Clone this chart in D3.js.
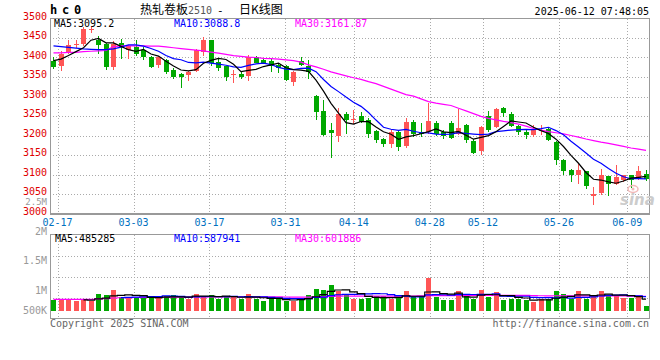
<!DOCTYPE html>
<html><head><meta charset="utf-8">
<script src="https://cdn.jsdelivr.net/npm/d3@7"></script>
<style>body{margin:0;background:#fff}svg{display:block}</style>
</head><body>
<svg id="c" width="660" height="360"></svg>
<script>
const dates = ["02-14","02-17","02-18","02-19","02-20","02-21","02-24","02-25","02-26","02-27","02-28",
"03-03","03-04","03-05","03-06","03-07","03-10","03-11","03-12","03-13","03-14",
"03-17","03-18","03-19","03-20","03-21","03-24","03-25","03-26","03-27","03-28","03-31",
"04-01","04-02","04-03","04-07","04-08","04-09","04-10","04-11",
"04-14","04-15","04-16","04-17","04-18","04-21","04-22","04-23","04-24","04-25",
"04-28","04-29","04-30","05-06","05-07","05-08","05-09",
"05-12","05-13","05-14","05-15","05-16","05-19","05-20","05-21","05-22","05-23",
"05-26","05-27","05-28","05-29","05-30","06-03","06-04","06-05","06-06",
"06-09","06-10","06-11","06-12"];
const open  = [3391,3378,3412,3433,3434,3471,3445,3434,3376,3436,3420,3426,3420,3401,3380,3394,3369,3358,3356,3365,
3413,3445,3389,3377,3356,3358,3353,3401,3393,3390,3381,3377,3338,3390,3379,3302,3263,3214,3198,3255,
3240,3251,3240,3211,3191,3178,3210,3173,3235,3210,3210,3232,3210,3233,3205,3227,3186,3161,3250,3221,
3270,3255,3224,3210,3201,3211,3216,3184,3138,3111,3100,3108,3045,3052,3095,3076,3085,3098,3089,3102];
const high  = [3402,3416,3444,3446,3479,3481,3455,3436,3442,3448,3433,3446,3428,3404,3404,3397,3372,3360,3366,3421,
3452,3446,3395,3379,3368,3364,3407,3405,3396,3395,3386,3380,3365,3401,3394,3303,3290,3231,3270,3261,
3265,3261,3244,3214,3193,3216,3214,3244,3240,3231,3283,3236,3213,3236,3267,3230,3190,3225,3262,3270,
3272,3261,3227,3214,3227,3227,3218,3186,3140,3113,3127,3110,3069,3113,3097,3124,3100,3100,3121,3111];
const low   = [3371,3366,3408,3424,3430,3464,3408,3367,3367,3395,3396,3405,3394,3372,3374,3358,3344,3321,3341,3362,
3403,3378,3366,3341,3334,3344,3341,3386,3384,3364,3360,3340,3326,3379,3345,3240,3199,3143,3184,3204,
3229,3231,3194,3180,3171,3167,3161,3167,3195,3197,3205,3200,3190,3190,3201,3181,3152,3149,3210,3218,
3247,3222,3202,3190,3197,3202,3186,3124,3098,3081,3075,3062,3022,3048,3046,3072,3082,3066,3085,3083];
const close = [3376,3410,3432,3435,3472,3473,3432,3376,3434,3428,3430,3410,3401,3376,3401,3364,3350,3349,3364,3418,
3446,3386,3374,3350,3358,3351,3401,3387,3387,3379,3373,3343,3362,3382,3362,3261,3201,3207,3255,3240,
3242,3235,3205,3188,3178,3210,3171,3235,3204,3203,3237,3205,3198,3194,3218,3188,3155,3222,3215,3267,
3257,3225,3209,3202,3213,3213,3188,3137,3108,3100,3111,3070,3050,3098,3076,3094,3098,3087,3109,3089];
const ma5  = [3392,3396,3405,3415,3425.0,3444.4,3448.8,3437.6,3437.4,3428.6,3420.0,3415.6,3420.6,3409.0,3403.6,3390.4,3378.4,3368.0,3365.6,3369.0,
3385.4,3392.6,3397.6,3394.8,3382.8,3363.8,3366.8,3369.4,3376.8,3381.0,3385.4,3373.8,3368.8,3367.8,3364.4,3342.0,3313.6,3282.6,3257.2,3232.8,
3229.0,3235.8,3235.4,3222.0,3209.6,3203.2,3190.4,3196.4,3199.6,3204.6,3210.0,3216.8,3209.4,3207.4,3210.4,3200.6,3190.6,3195.4,3199.6,3209.4,
3223.2,3237.2,3234.6,3232.0,3221.2,3212.4,3205.0,3190.6,3171.8,3149.2,3128.8,3105.2,3087.8,3085.8,3081.0,3077.6,3083.2,3090.6,3092.8,3095.2];
const ma10 = [3430,3428,3426,3424,3422,3421,3420,3420,3422,3426.8,3432.2,3432.2,3429.1,3423.2,3416.1,3405.2,3397.0,3394.3,3387.3,3386.3,
3387.9,3385.5,3382.8,3380.2,3375.9,3374.6,3379.7,3383.5,3385.8,3381.9,3374.6,3370.3,3369.1,3372.3,3372.7,3363.7,3343.7,3325.7,3312.5,3298.6,
3285.5,3274.7,3259.0,3239.6,3221.2,3216.1,3213.1,3215.9,3210.8,3207.1,3206.6,3203.6,3202.9,3203.5,3207.5,3205.3,3203.7,3202.4,3203.5,3209.9,
3211.9,3213.9,3215.0,3215.8,3215.3,3217.8,3221.1,3212.6,3201.9,3185.2,3170.6,3155.1,3139.2,3128.8,3115.1,3103.2,3094.2,3089.2,3089.3,3088.8];
const ma30 = [3412,3412,3413,3413,3415,3416,3417,3418,3428,3430,3430,3430,3430,3429,3429,3427,3425,3423,3421,3419,
3417,3414,3411,3408,3405,3403,3401,3400,3398,3397,3396,3394,3392,3388,3381,3376,3370,3363,3358,3353,
3348,3344,3338,3333,3326,3319,3312,3305,3301,3294,3287,3283,3280,3277,3270,3263,3256,3249,3244,3240,
3236,3233,3229,3224,3218,3214,3210,3207,3204,3200,3196,3191,3187,3183,3180,3176,3172,3168,3165,3161.87];
const volume = [446,446,488,385,488,404,696,655,863,583,517,583,583,517,517,625,655,558,488,696,
625,655,488,558,613,488,696,488,417,488,488,417,417,517,655,904,863,1071,821,683,
488,475,517,625,625,488,517,821,558,625,1376,558,446,446,821,613,488,863,583,779,
446,488,488,446,350,488,488,821,696,488,821,488,655,821,655,613,517,517,613,196].map(v => v * 1000);
const volMa5 = [null,null,null,null,451,442,492,526,621,640,663,640,626,557,543,565,579,574,569,604,
604,604,590,604,588,560,569,569,540,515,515,460,445,465,499,582,671,802,863,868,
785,708,597,558,546,546,554,615,602,602,779,788,713,690,729,577,563,646,674,665,
632,632,557,529,444,452,452,519,569,596,663,663,630,655,688,646,652,625,583,485.285].map(v => v == null ? null : v * 1000);
const volMa10 = [null,null,null,null,null,null,null,null,null,545,553,566,576,589,592,614,610,600,563,574,
585,592,582,587,596,582,587,580,572,552,538,514,507,503,507,549,565,624,664,684,
684,689,699,710,707,666,631,606,580,574,663,671,664,646,666,678,675,679,682,697,
604,597,602,602,554,542,542,538,549,520,557,557,574,612,642,655,658,627,619,587.941].map(v => v == null ? null : v * 1000);
const volMa30 = [470,470,475,470,475,470,490,505,530,540,545,550,555,555,555,560,565,565,565,570,
575,578,578,580,582,580,582,580,575,575,572,570,567,565,568,578,588,600,608,612,
610,608,607,608,608,605,605,612,612,614,630,632,630,628,635,635,633,640,640,645,
640,640,638,636,625,622,620,622,622,618,622,620,618,620,618,615,612,610,608,601.886].map(v => v * 1000);
const priceTicks = [3000,3050,3100,3150,3200,3250,3300,3350,3400,3450,3500];
const volTicks = [500000,1000000,1500000,2000000,2500000];
const volTickLabels = ["500K","1M","1.5M","2M","2.5M"];
const dateTicks = ["02-17","03-03","03-17","03-31","04-14","04-28","05-12","05-26","06-09"];

const RED = "#ff5555", GREEN = "#00a800";
const MONO = "'DejaVu Sans Mono', 'Liberation Mono', monospace";
const CJK = "'Noto Sans CJK SC', sans-serif";
const svg = d3.select("#c");
const L = 50, R = 650;

const x = d3.scaleBand().domain(dates).range([L, R]);
const xGrid = d3.scaleLinear().domain([0, dates.length - 1]).range([L, R]);
const yP = d3.scaleLinear().domain([3000, 3500]).range([213.5, 18.5]);
const yV = d3.scaleLinear().domain([0, 1000000]).range([310.7, 286.7]);
const yVLab = d3.scaleLinear().domain([500000, 1000000, 2500000]).range([310, 290.7, 201.5]);
const yVGrid = d3.scaleLinear().domain([0, 4]).range([318.5, 234.5]);
const cx = d => x(d) + 3;

// grids
const g = svg.append("g").attr("stroke", "#aaa").attr("stroke-dasharray", "1,2").attr("shape-rendering", "crispEdges");
priceTicks.slice(1, -1).forEach(t => g.append("line").attr("x1", L).attr("x2", R).attr("y1", Math.round(yP(t)) + 0.5).attr("y2", Math.round(yP(t)) + 0.5));
[1, 2, 3].forEach(t => g.append("line").attr("x1", L).attr("x2", R).attr("y1", Math.round(yVGrid(t)) + 0.5).attr("y2", Math.round(yVGrid(t)) + 0.5));
dateTicks.forEach(d => {
  const gx = Math.round(xGrid(dates.indexOf(d))) + 0.5;
  g.append("line").attr("x1", gx).attr("x2", gx).attr("y1", yP(3500)).attr("y2", yP(3000));
  g.append("line").attr("x1", gx).attr("x2", gx).attr("y1", yVGrid(4)).attr("y2", yVGrid(0));
});

// candles + volume bars
const cg = svg.append("g").attr("shape-rendering", "crispEdges");
dates.forEach((d, i) => {
  const up = close[i] >= open[i];
  const col = up ? RED : GREEN;
  const xl = Math.round(x(d));
  cg.append("line").attr("x1", xl + 3.5).attr("x2", xl + 3.5)
    .attr("y1", yP(high[i])).attr("y2", yP(low[i])).attr("stroke", col);
  const top = yP(Math.max(open[i], close[i])), bot = yP(Math.min(open[i], close[i]));
  cg.append("rect").attr("x", xl + 1).attr("width", 5).attr("y", top)
    .attr("height", Math.max(1, bot - top)).attr("fill", col);
  cg.append("rect").attr("x", xl + 1).attr("width", 5).attr("y", yV(volume[i]))
    .attr("height", yV(0) - yV(volume[i])).attr("fill", col);
});

// MA lines
const mline = arr => d3.line().defined(v => v != null).x((v, i) => cx(dates[i]) + 0.5).y(v => yP(v))(arr);
[[ma30, "#ff00ff"], [ma10, "#0000ff"], [ma5, "#000000"]].forEach(([a, c]) =>
  svg.append("path").attr("d", mline(a)).attr("fill", "none").attr("stroke", c).attr("stroke-width", 1.2));
const vline = arr => d3.line().defined(v => v != null).curve(d3.curveStep).x((v, i) => cx(dates[i]) + 0.5).y(v => yV(v))(arr);
[[volMa30, "#ff00ff"], [volMa10, "#0000ff"], [volMa5, "#000000"]].forEach(([a, c]) =>
  svg.append("path").attr("d", vline(a)).attr("fill", "none").attr("stroke", c).attr("stroke-width", 1.2));

// borders
const b = svg.append("g").attr("stroke", "#999").attr("fill", "none").attr("shape-rendering", "crispEdges");
b.append("rect").attr("x", L + 0.5).attr("y", 18.5).attr("width", R - L - 1).attr("height", 195);
b.append("line").attr("x1", L).attr("x2", R).attr("y1", 213.5).attr("y2", 213.5).attr("stroke-width", 2);
b.append("rect").attr("x", L + 0.5).attr("y", 234.5).attr("width", R - L - 1).attr("height", 84);

// axis labels
const t = (xx, yy, s, o = {}) => svg.append("text").attr("x", xx).attr("y", yy).text(s)
  .attr("font-family", o.ff || MONO).attr("font-size", o.fs || 10).attr("fill", o.fill || "#000")
  .attr("text-anchor", o.anchor || "start").attr("font-weight", o.fw || "normal");
priceTicks.forEach(v => t(47, yP(v) + 1, v, { fill: "#e00000", anchor: "end" }));
volTicks.forEach((v, i) => t(47, yVLab(v) + 3.5, volTickLabels[i], { fill: "#999", anchor: "end", fs: v === 2500000 ? 9 : 10 }));
dateTicks.forEach(d => t(xGrid(dates.indexOf(d)), 225.5, d, { fill: "#0070c0", anchor: "middle" }));

// header
t(50, 14, "hc0", { fw: "bold", fs: 12 }).attr("letter-spacing", 4.8);
t(140, 14, "热轧卷板", { ff: CJK, fs: 12 });
t(188, 14, "2510", { fill: "#555" });
t(217, 14, "-", { fs: 11 });
t(239, 14, "日K线图", { ff: CJK, fs: 12 });
t(649, 15, "2025-06-12 07:48:05", { anchor: "end" });

t(54, 27, "MA5:" + ma5[ma5.length - 1].toFixed(1));
t(174, 27, "MA10:" + ma10[ma10.length - 1].toFixed(1), { fill: "#0000ff" });
t(295, 27, "MA30:" + ma30[ma30.length - 1].toFixed(2), { fill: "#ff00ff" });
t(55, 242, "MA5:" + Math.round(volMa5[79]), {});
t(174, 242, "MA10:" + Math.round(volMa10[79]), { fill: "#0000ff" });
t(295, 242, "MA30:" + Math.round(volMa30[79]), { fill: "#ff00ff" });

t(50, 327, "Copyright 2025 SINA.COM", { fill: "#666" });
t(649, 327, "http://finance.sina.com.cn", { fill: "#666", anchor: "end" });

// watermark
svg.append("ellipse").attr("cx", 633).attr("cy", 189).attr("rx", 5).attr("ry", 3.5).attr("fill", "none").attr("stroke", "#f2b8b8").attr("stroke-width", 1.5);
svg.append("circle").attr("cx", 633).attr("cy", 189).attr("r", 1.5).attr("fill", "#f2b8b8");
t(620, 205, "sina", { ff: "'DejaVu Sans', sans-serif", fs: 15, fw: "bold", fill: "#cccccc" }).attr("font-style", "italic");
</script>
</body></html>
